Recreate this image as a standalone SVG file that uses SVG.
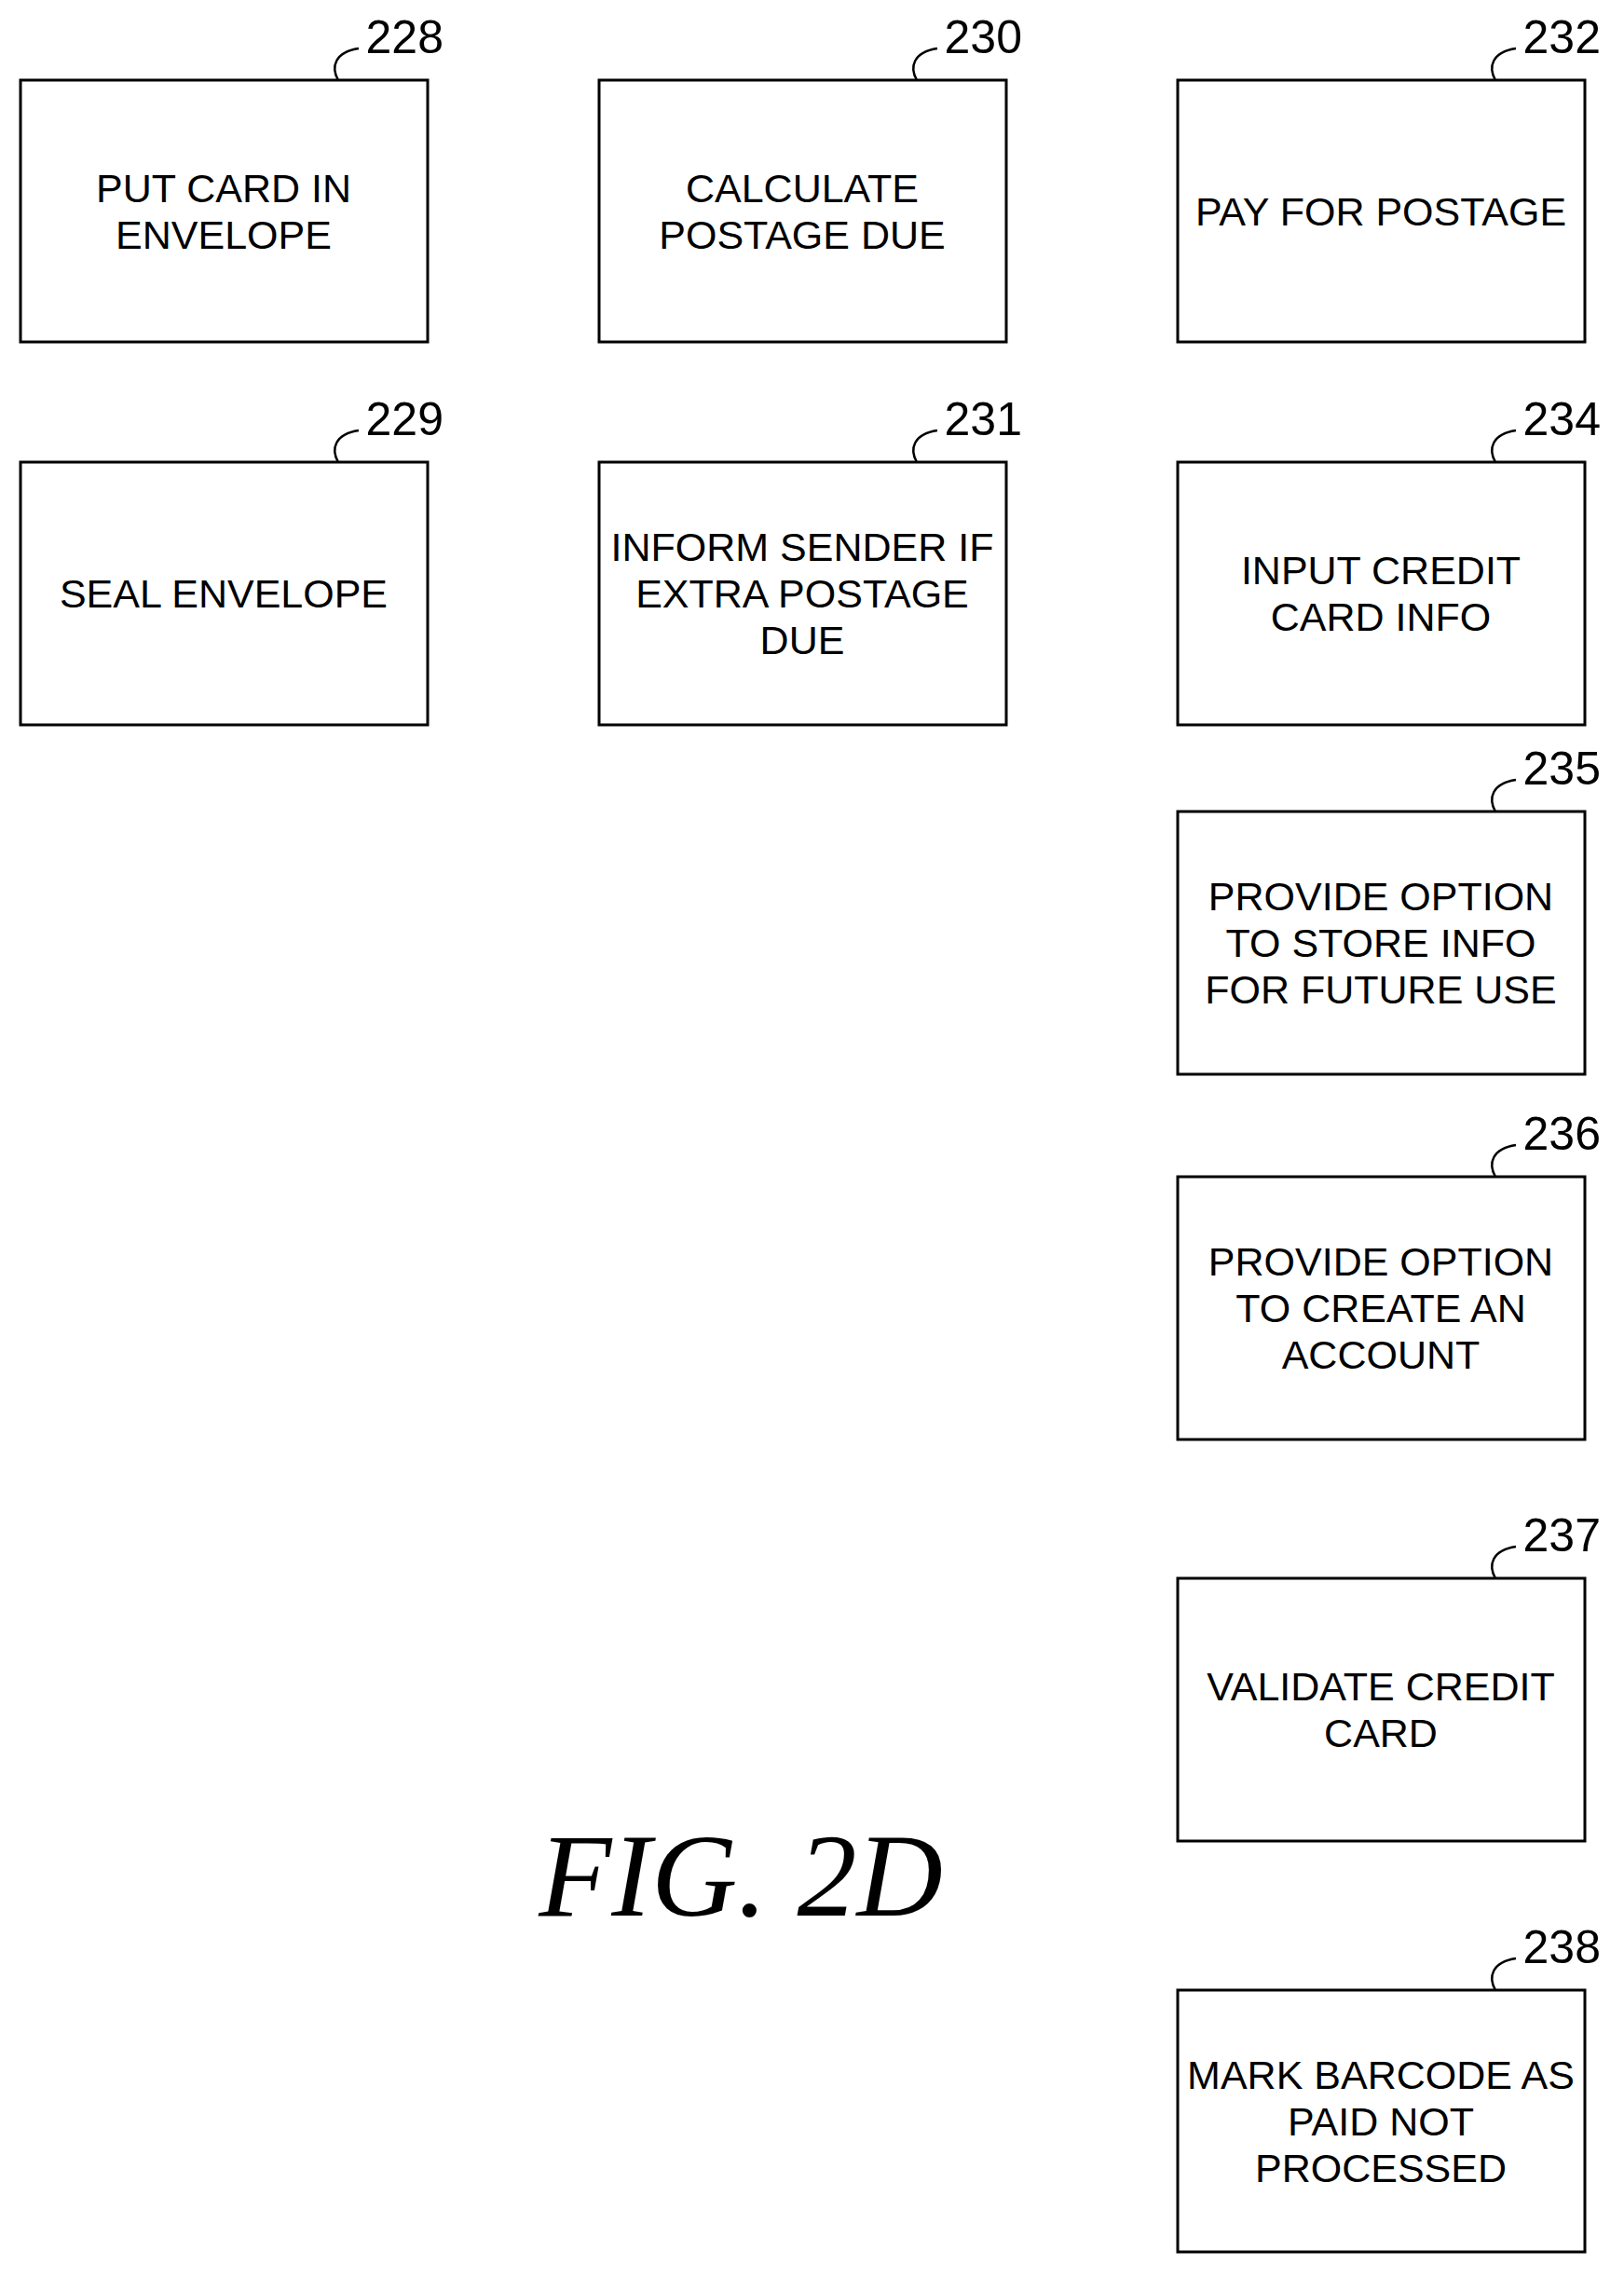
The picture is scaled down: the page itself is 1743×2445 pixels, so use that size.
<svg xmlns="http://www.w3.org/2000/svg" width="1743" height="2445" viewBox="0 0 1743 2445">
<style>
rect{fill:#fff;stroke:#000;stroke-width:3}
.t{font-family:"Liberation Sans",Arial,sans-serif;font-size:43px;text-anchor:middle}
.n{font-family:"Liberation Sans",Arial,sans-serif;font-size:50px;text-anchor:end}
.l{fill:none;stroke:#000;stroke-width:2.5}
</style>
<rect x="0" y="0" width="1743" height="2445" style="stroke:none"/>
<g id="n228"><rect x="22" y="86" width="437" height="281"/><text class="t" x="240" y="217">PUT CARD IN</text><text class="t" x="240" y="267">ENVELOPE</text><path class="l" d="M363,86 c-8,-14 -4,-30 22,-34"/><text class="n" x="476" y="57">228</text></g>
<g id="n229"><rect x="22" y="496" width="437" height="282"/><text class="t" x="240" y="652">SEAL ENVELOPE</text><path class="l" d="M363,496 c-8,-14 -4,-30 22,-34"/><text class="n" x="476" y="467">229</text></g>
<g id="n230"><rect x="643" y="86" width="437" height="281"/><text class="t" x="861" y="217">CALCULATE</text><text class="t" x="861" y="267">POSTAGE DUE</text><path class="l" d="M984,86 c-8,-14 -4,-30 22,-34"/><text class="n" x="1097" y="57">230</text></g>
<g id="n231"><rect x="643" y="496" width="437" height="282"/><text class="t" x="861" y="602">INFORM SENDER IF</text><text class="t" x="861" y="652">EXTRA POSTAGE</text><text class="t" x="861" y="702">DUE</text><path class="l" d="M984,496 c-8,-14 -4,-30 22,-34"/><text class="n" x="1097" y="467">231</text></g>
<g id="n232"><rect x="1264" y="86" width="437" height="281"/><text class="t" x="1482" y="242">PAY FOR POSTAGE</text><path class="l" d="M1605,86 c-8,-14 -4,-30 22,-34"/><text class="n" x="1718" y="57">232</text></g>
<g id="n234"><rect x="1264" y="496" width="437" height="282"/><text class="t" x="1482" y="627">INPUT CREDIT</text><text class="t" x="1482" y="677">CARD INFO</text><path class="l" d="M1605,496 c-8,-14 -4,-30 22,-34"/><text class="n" x="1718" y="467">234</text></g>
<g id="n235"><rect x="1264" y="871" width="437" height="282"/><text class="t" x="1482" y="977">PROVIDE OPTION</text><text class="t" x="1482" y="1027">TO STORE INFO</text><text class="t" x="1482" y="1077">FOR FUTURE USE</text><path class="l" d="M1605,871 c-8,-14 -4,-30 22,-34"/><text class="n" x="1718" y="842">235</text></g>
<g id="n236"><rect x="1264" y="1263" width="437" height="282"/><text class="t" x="1482" y="1369">PROVIDE OPTION</text><text class="t" x="1482" y="1419">TO CREATE AN</text><text class="t" x="1482" y="1469">ACCOUNT</text><path class="l" d="M1605,1263 c-8,-14 -4,-30 22,-34"/><text class="n" x="1718" y="1234">236</text></g>
<g id="n237"><rect x="1264" y="1694" width="437" height="282"/><text class="t" x="1482" y="1825">VALIDATE CREDIT</text><text class="t" x="1482" y="1875">CARD</text><path class="l" d="M1605,1694 c-8,-14 -4,-30 22,-34"/><text class="n" x="1718" y="1665">237</text></g>
<g id="n238"><rect x="1264" y="2136" width="437" height="281"/><text class="t" x="1482" y="2242">MARK BARCODE AS</text><text class="t" x="1482" y="2292">PAID NOT</text><text class="t" x="1482" y="2342">PROCESSED</text><path class="l" d="M1605,2136 c-8,-14 -4,-30 22,-34"/><text class="n" x="1718" y="2107">238</text></g>
<g id="connectors"></g>
<text x="795" y="2056" style="font-family:'Liberation Serif','Times New Roman',serif;font-style:italic;font-size:128px;text-anchor:middle">FIG. 2D</text>
</svg>
